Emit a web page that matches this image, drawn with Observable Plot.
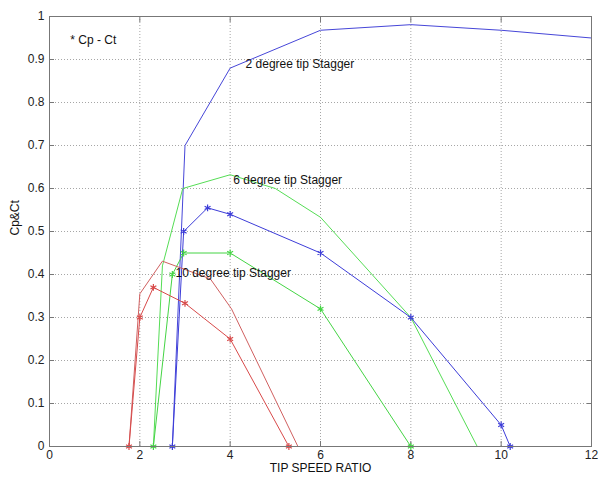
<!DOCTYPE html>
<html>
<head>
<meta charset="utf-8">
<script src="https://cdn.jsdelivr.net/npm/d3@7"></script>
<script src="https://cdn.jsdelivr.net/npm/@observablehq/plot@0.6"></script>
<style>
  html, body { margin: 0; padding: 0; background: #fff; }
  #chart svg { display: block; }
</style>
</head>
<body>
<div id="chart"></div>
<script>
// Tip speed ratio (x) and Cp / Ct values (y)
const blueCpX = [2.72, 3.0, 4, 6, 8, 10, 12];
const blueCpY = [0, 0.70, 0.88, 0.968, 0.981, 0.968, 0.95];
const blueCtX = [2.72, 2.97, 3.5, 4, 6, 8, 10, 10.2];
const blueCtY = [0, 0.50, 0.555, 0.54, 0.45, 0.30, 0.05, 0];

const greenCpX = [2.3, 2.5, 2.95, 4, 5, 6, 8, 9.47];
const greenCpY = [0, 0.42, 0.60, 0.632, 0.60, 0.533, 0.30, 0];
const greenCtX = [2.3, 2.72, 2.97, 4, 6, 8];
const greenCtY = [0, 0.40, 0.45, 0.45, 0.32, 0];

const redCpX = [1.76, 2.0, 2.5, 3.56, 4.03, 5.5];
const redCpY = [0, 0.355, 0.431, 0.39, 0.32, 0];
const redCtX = [1.76, 2.0, 2.3, 3.0, 4.0, 5.3];
const redCtY = [0, 0.30, 0.37, 0.333, 0.25, 0];

const seriesNames = ["2 degree Cp", "2 degree Ct", "6 degree Cp", "6 degree Ct", "10 degree Cp", "10 degree Ct"];
const seriesColors = ["#4646d8", "#3c3cd8", "#55dd55", "#44d444", "#d06060", "#d84a4a"];

const xTicks = [0, 2, 4, 6, 8, 10, 12];
const yTicks = [0, 0.1, 0.2, 0.3, 0.4, 0.5, 0.6, 0.7, 0.8, 0.9, 1];
const yTickLabels = ["0", "0.1", "0.2", "0.3", "0.4", "0.5", "0.6", "0.7", "0.8", "0.9", "1"];

const annotationText = ["* Cp - Ct", "2 degree tip Stagger", "6 degree tip Stagger", "10 degree tip Stagger"];
const annotationX = [0.46, 4.34, 4.07, 2.79];
const annotationY = [0.944, 0.89, 0.619, 0.402];

const xLabel = "TIP SPEED RATIO";
const yLabel = "Cp&Ct";

// build tables
const rawSeries = [
  [blueCpX, blueCpY, false],
  [blueCtX, blueCtY, true],
  [greenCpX, greenCpY, false],
  [greenCtX, greenCtY, true],
  [redCpX, redCpY, false],
  [redCtX, redCtY, true]
];
const rows = [];
rawSeries.forEach(([xs, ys, star], i) => {
  xs.forEach((x, j) => rows.push({series: seriesNames[i], x, y: ys[j], star}));
});
const starRows = rows.filter(d => d.star);
const annotations = annotationText.map((t, i) => ({text: t, x: annotationX[i], y: annotationY[i]}));

const gridStyle = {stroke: "#888", strokeOpacity: 0.75, strokeDasharray: "1,2"};
const tickStyle = {tickSize: -5, tickFormat: () => "", label: null, stroke: "#777"};

const chart = Plot.plot({
  width: 605,
  height: 479,
  marginLeft: 49,
  marginRight: 14,
  marginTop: 16,
  marginBottom: 33,
  style: {fontFamily: "'Liberation Sans', Arial, sans-serif", fontSize: "12px", color: "#222", background: "#fff"},
  x: {domain: [0, 12]},
  y: {domain: [0, 1]},
  color: {domain: seriesNames, range: seriesColors},
  marks: [
    Plot.gridX(xTicks, gridStyle),
    Plot.gridY(yTicks, gridStyle),
    Plot.axisX(xTicks, {anchor: "bottom", tickSize: 0, tickPadding: 4, label: null, fontSize: 12}),
    Plot.axisY(yTicks, {anchor: "left", tickSize: 0, tickPadding: 5, label: null, fontSize: 12,
      tickFormat: d => yTickLabels[yTicks.indexOf(d)]}),
    Plot.axisX(xTicks, {anchor: "bottom", ...tickStyle}),
    Plot.axisX(xTicks, {anchor: "top", ...tickStyle}),
    Plot.axisY(yTicks, {anchor: "left", ...tickStyle}),
    Plot.axisY(yTicks, {anchor: "right", ...tickStyle}),
    Plot.line(rows, {x: "x", y: "y", z: "series", stroke: "series", strokeWidth: 1}),
    Plot.dot(starRows, {x: "x", y: "y", stroke: "series", symbol: "asterisk", r: 3.2, strokeWidth: 1.2}),
    Plot.text(annotations, {x: "x", y: "y", text: "text", textAnchor: "start", fill: "#111", fontSize: 12}),
    Plot.text([yLabel], {frameAnchor: "left", dx: -34, dy: 4, rotate: -90, fill: "#111", fontSize: 12}),
    Plot.text([xLabel], {frameAnchor: "bottom", dy: 25, fill: "#111", fontSize: 12}),
    Plot.frame({stroke: "#777"})
  ]
});
document.getElementById("chart").appendChild(chart);
</script>
</body>
</html>
